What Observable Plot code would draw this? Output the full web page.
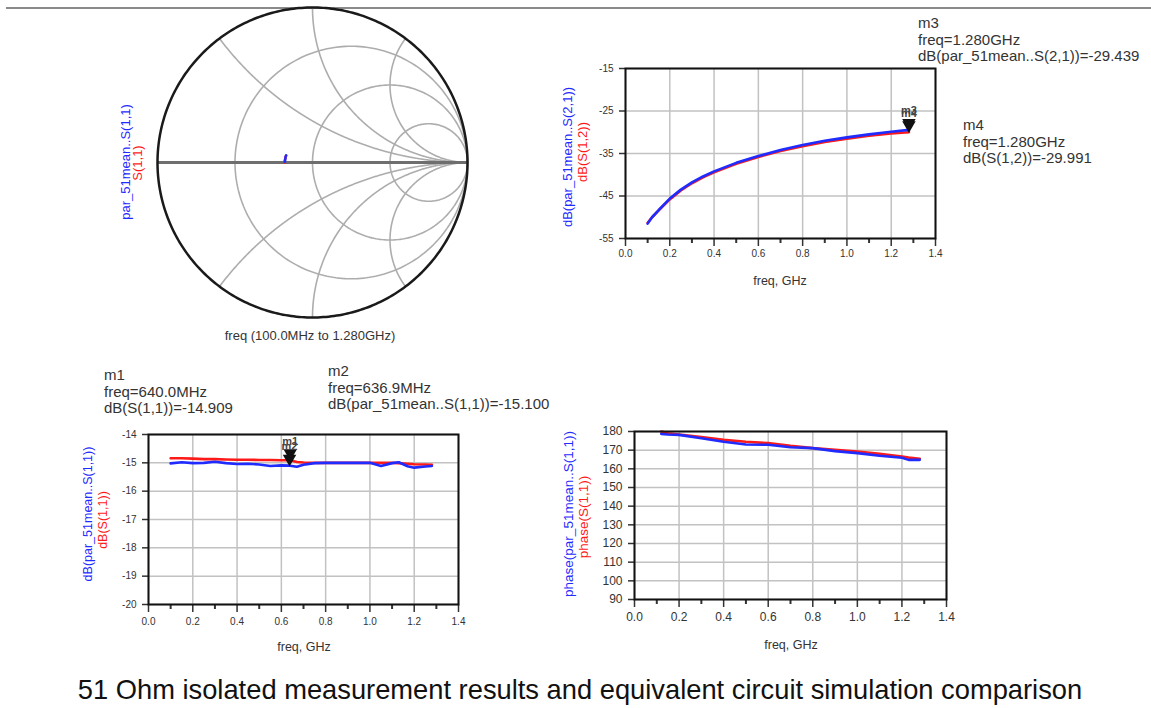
<!DOCTYPE html>
<html><head><meta charset="utf-8">
<script src="https://cdn.jsdelivr.net/npm/d3@7"></script>
<script src="https://cdn.jsdelivr.net/npm/@observablehq/plot@0.6"></script>
<style>
body{margin:0;background:#fff;font-family:"Liberation Sans",Arial,sans-serif;}
#page{position:relative;width:1151px;height:708px;overflow:hidden;background:#fff;}
.t{position:absolute;white-space:nowrap;transform:translate(-50%,-50%);}
.rot{position:absolute;white-space:nowrap;transform:translate(-50%,-50%) rotate(-90deg);font-size:13px;}
.mk{position:absolute;white-space:pre;font-size:15px;line-height:16.5px;color:#333;}
svg{position:absolute;overflow:visible;}
</style></head>
<body><div id="page"></div>
<script>
// ---------- data ----------
// S21 / S12 (top right)
const freqS21 = [0.10,0.12,0.15,0.20,0.25,0.30,0.35,0.40,0.50,0.60,0.70,0.80,0.90,1.00,1.10,1.20,1.28];
const s21Meas = [-51.5,-50.0,-48.3,-45.6,-43.5,-41.8,-40.4,-39.2,-37.2,-35.6,-34.2,-33.0,-32.0,-31.2,-30.5,-29.9,-29.44];
const s12Sim  = [-51.3,-50.0,-48.4,-45.8,-43.7,-42.0,-40.6,-39.4,-37.4,-35.8,-34.4,-33.3,-32.3,-31.5,-30.8,-30.3,-29.99];
// dB S11 (bottom left)
const freqS11 = [0.10,0.15,0.20,0.25,0.30,0.35,0.40,0.45,0.50,0.55,0.60,0.637,0.64,0.67,0.70,0.75,0.80,0.85,0.90,0.95,1.00,1.05,1.10,1.13,1.17,1.20,1.25,1.28];
const s11dBMeas = [-15.02,-14.98,-15.01,-15.00,-14.96,-15.01,-15.04,-15.03,-15.06,-15.11,-15.09,-15.10,-15.10,-15.14,-15.07,-15.01,-15.00,-15.00,-15.00,-15.00,-15.00,-15.11,-15.01,-14.98,-15.12,-15.17,-15.13,-15.11];
const s11dBSim  = [-14.84,-14.84,-14.85,-14.87,-14.87,-14.88,-14.89,-14.89,-14.90,-14.90,-14.91,-14.91,-14.909,-14.97,-14.99,-15.00,-15.00,-15.00,-15.00,-15.00,-15.00,-15.00,-15.00,-15.01,-15.03,-15.05,-15.06,-15.07];
// phase S11 (bottom right)
const freqPh = [0.12,0.15,0.20,0.30,0.40,0.50,0.60,0.70,0.80,0.90,1.00,1.10,1.20,1.23,1.28];
const phMeas = [178.7,178.4,178.2,176.4,174.5,173.0,172.9,171.6,171.1,169.5,168.4,167.0,165.9,164.8,164.8];
const phSim  = [180.0,179.0,178.4,177.0,175.5,174.5,173.8,172.3,171.1,170.2,169.3,168.0,166.6,166.0,165.4];
// Smith chart trace samples
const smithFreq  = [0.12,0.40,0.70,1.00,1.28];
const smithDbMeas = [-15.00,-15.04,-15.07,-15.00,-15.11];
const smithPhMeas = [178.7,174.5,171.6,168.4,164.8];
const smithDbSim  = [-14.84,-14.89,-14.99,-15.00,-15.07];
const smithPhSim  = [180.0,175.5,172.3,169.3,165.4];
// Smith grid values
const smithR = [1/3, 1, 3];
const smithX = [0.5, 1, 2, -0.5, -1, -2];
// axis ticks
const xMajor = [0,0.2,0.4,0.6,0.8,1.0,1.2,1.4];
const xMinor = [0.1,0.3,0.5,0.7,0.9,1.1,1.3];
const yTicksS21 = [-55,-45,-35,-25,-15];
const yTicksS11 = [-20,-19,-18,-17,-16,-15,-14];
const yTicksPh = [90,100,110,120,130,140,150,160,170,180];
// markers
const markersS21 = [{f:1.28, v:-29.991, m:"m4"},{f:1.28, v:-29.439, m:"m3"}];
const markersS11 = [{f:0.640, v:-14.909, m:"m1"},{f:0.6369, v:-15.100, m:"m2"}];

const BLUE = "#1f2bff", RED = "#ff1a1a";
const page = document.getElementById("page");

function addDiv(cls, html, x, y, style={}) {
  const d = document.createElement("div");
  d.className = cls; d.innerHTML = html;
  d.style.left = x + "px"; d.style.top = y + "px";
  Object.assign(d.style, style);
  page.appendChild(d);
  return d;
}
function placeSvg(svg, left, top) {
  svg.style.left = left + "px"; svg.style.top = top + "px";
  page.appendChild(svg);
}

// top rule line
addDiv("", "", 6, 7, {position:"absolute", width:"1145px", height:"2px", background:"#8a8a8a"});

// ---------- Smith chart ----------
(function(){
  const grid = [];
  smithR.forEach((r,i) => {
    const cx = r/(1+r), rad = 1/(1+r);
    for (let k=0;k<=240;k++){ const a = 2*Math.PI*k/240; grid.push({id:"r"+i, x:cx+rad*Math.cos(a), y:rad*Math.sin(a)}); }
  });
  smithX.forEach((xv,i) => {
    for (let k=0;k<=400;k++){
      if (k===400) { grid.push({id:"x"+i, x:1, y:0}); continue; }
      const t = k/400, r = t/(1-t);
      const den = (r+1)*(r+1) + xv*xv;
      grid.push({id:"x"+i, x:(r*r+xv*xv-1)/den, y:2*xv/den});
    }
  });
  const unit = d3.range(0,361).map(a => ({x:Math.cos(a*Math.PI/180), y:Math.sin(a*Math.PI/180)}));
  const toG = (db, ph) => db.map((d,i) => { const m = Math.pow(10, d/20), a = ph[i]*Math.PI/180; return {x:m*Math.cos(a), y:m*Math.sin(a), f:smithFreq[i]}; });
  const meas = toG(smithDbMeas, smithPhMeas), sim = toG(smithDbSim, smithPhSim);
  const svg = Plot.plot({
    width:331, height:325, marginLeft:10, marginRight:11, marginTop:7, marginBottom:8,
    x:{domain:[-1,1], axis:null}, y:{domain:[-1,1], axis:null},
    marks:[
      Plot.line(grid, {x:"x", y:"y", z:"id", stroke:"#adadad", strokeWidth:1.6}),
      Plot.ruleY([0], {x1:-1, x2:1, stroke:"#6e6e6e", strokeWidth:3}),
      Plot.line(unit, {x:"x", y:"y", stroke:"#1a1a1a", strokeWidth:2.5}),
      Plot.line(sim, {x:"x", y:"y", stroke:RED, strokeWidth:2.5}),
      Plot.line(meas, {x:"x", y:"y", stroke:BLUE, strokeWidth:2.5})
    ]
  });
  placeSvg(svg, 147, 0);
  addDiv("rot", "par_51mean..S(1,1)", 125, 162, {color:BLUE});
  addDiv("rot", "S(1,1)", 137, 163, {color:RED});
  addDiv("t", "freq (100.0MHz to 1.280GHz)", 310, 335, {fontSize:"13px", color:"#333"});
})();

// ---------- rectangular plots ----------
function framePlot(c) {
  const mL = 50, mR = 15, mT = 14, mB = 36;
  const w = c.fr - c.fl + mL + mR, h = c.fb - c.ft + mT + mB;
  const marks = [
    Plot.gridX(xMajor, {stroke:"#c2c2c2", strokeOpacity:1, strokeWidth:1.5}),
    Plot.gridY(c.yTicks, {stroke:"#c2c2c2", strokeOpacity:1, strokeWidth:1.5}),
    Plot.axisX(xMinor, {tickSize:5, tickFormat:() => "", strokeWidth:2, label:null}),
    Plot.axisX(xMajor, {tickSize:8, tickPadding:c.xPad, tickFormat:d => d.toFixed(1), fontSize:c.fs, strokeWidth:1.5, label:null}),
    Plot.axisY(c.yTicks, {tickSize:6, tickPadding:6, tickFormat:d => String(d), fontSize:c.fs, strokeWidth:1.5, label:null}),
    ...c.lines.map(l => Plot.line(l.x.map((xv,i) => ({x:xv, y:l.y[i]})), {x:"x", y:"y", stroke:l.color, strokeWidth:2.6})),
    Plot.frame({stroke:"#111", strokeWidth:2})
  ];
  if (c.markers) {
    marks.push(Plot.dot(c.markers, {x:"f", y:"v", symbol:"triangle", r:5, fill:"#111", rotate:180, dy:-7}));
    marks.push(Plot.text(c.markers, {x:"f", y:"v", text:"m", dy:-19, fontSize:11, fontWeight:"bold", fill:"#444"}));
  }
  const svg = Plot.plot({
    width:w, height:h, marginLeft:mL, marginRight:mR, marginTop:mT, marginBottom:mB,
    style:{fontFamily:"Liberation Sans, Arial, sans-serif", color:"#333", background:"transparent"},
    x:{domain:[0,1.4]}, y:{domain:c.yDomain},
    marks
  });
  placeSvg(svg, c.fl - mL, c.ft - mT);
}

// top right: S21
framePlot({fl:625, fr:935, ft:68, fb:238, yDomain:[-55,-15], yTicks:yTicksS21, fs:10, xPad:3,
  lines:[{x:freqS21, y:s12Sim, color:RED},{x:freqS21, y:s21Meas, color:BLUE}], markers:markersS21});
addDiv("rot", "dB(par_51mean..S(2,1))", 567, 157, {color:BLUE});
addDiv("rot", "dB(S(1,2))", 582, 152, {color:RED});
addDiv("t", "freq, GHz", 780, 281, {fontSize:"12.5px", color:"#333"});
addDiv("mk", "m3\nfreq=1.280GHz\ndB(par_51mean..S(2,1))=-29.439", 918, 15);
addDiv("mk", "m4\nfreq=1.280GHz\ndB(S(1,2))=-29.991", 963, 117);

// bottom left: dB S11
framePlot({fl:148, fr:458, ft:434, fb:604, yDomain:[-20,-14], yTicks:yTicksS11, fs:10, xPad:5,
  lines:[{x:freqS11, y:s11dBSim, color:RED},{x:freqS11, y:s11dBMeas, color:BLUE}], markers:markersS11});
addDiv("rot", "dB(par_51mean..S(1,1))", 88, 514, {color:BLUE, fontSize:"12.5px"});
addDiv("rot", "dB(S(1,1))", 103, 520, {color:RED, fontSize:"12.5px"});
addDiv("t", "freq, GHz", 304, 647, {fontSize:"12.5px", color:"#333"});
addDiv("mk", "m1\nfreq=640.0MHz\ndB(S(1,1))=-14.909", 104, 367);
addDiv("mk", "m2\nfreq=636.9MHz\ndB(par_51mean..S(1,1))=-15.100", 328, 363);

// bottom right: phase S11
framePlot({fl:634, fr:946, ft:431, fb:599, yDomain:[90,180], yTicks:yTicksPh, fs:12, xPad:5,
  lines:[{x:freqPh, y:phSim, color:RED},{x:freqPh, y:phMeas, color:BLUE}]});
addDiv("rot", "phase(par_51mean..S(1,1))", 568, 514, {color:BLUE, fontSize:"13.5px"});
addDiv("rot", "phase(S(1,1))", 583, 517, {color:RED, fontSize:"13.5px"});
addDiv("t", "freq, GHz", 791, 645, {fontSize:"12.5px", color:"#333"});

// caption
addDiv("t", "51 Ohm isolated measurement results and equivalent circuit simulation comparison", 580, 690, {fontSize:"27.3px", color:"#111"});
</script>
</body></html>
